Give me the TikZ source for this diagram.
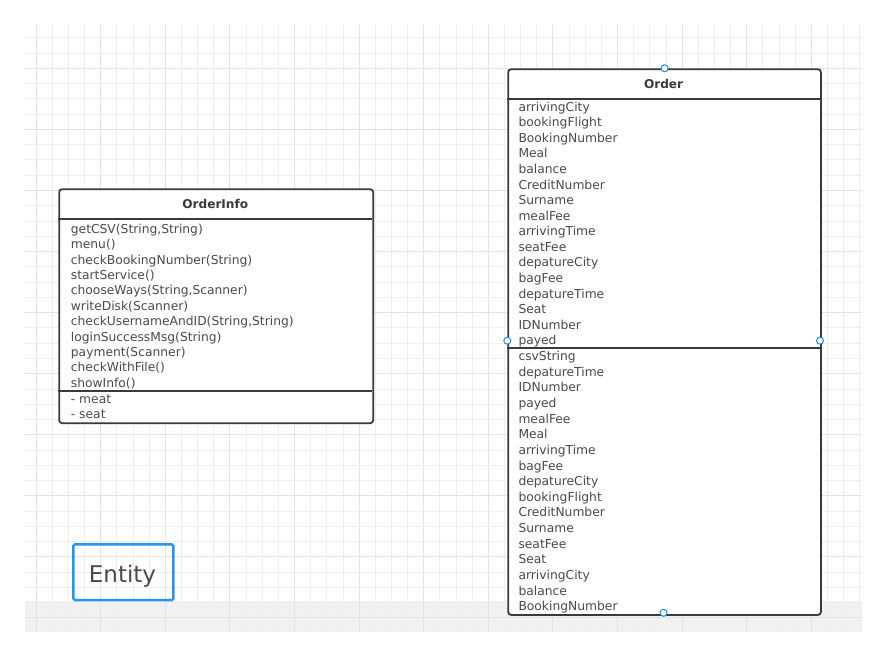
\documentclass[tikz,border=0pt]{standalone}
\usepackage{fontspec}
\setmainfont{DejaVu Sans}
\definecolor{gridminor}{HTML}{EFEFEF}
\definecolor{gridmajor}{HTML}{E3E3E3}
\definecolor{bandgray}{HTML}{F1F1F1}
\definecolor{boxline}{HTML}{3A3A3A}
\definecolor{txt}{HTML}{4A4A4A}
\definecolor{pointblue}{HTML}{1E88E5}
\definecolor{entityblue}{HTML}{2196F3}
\tikzset{
  umlbox/.style={draw=boxline, line width=1.8pt, rounded corners=3pt, fill=white, inner sep=0pt, anchor=north west},
  sepline/.style={draw=boxline, line width=1.8pt},
  umltitle/.style={font=\fontsize{12.1}{14}\selectfont\bfseries, text=boxline, inner sep=0pt},
  rowtext/.style={font=\fontsize{12.3}{14}\selectfont, text=txt, inner sep=0pt, anchor=base west},
  cpoint/.style={circle, draw=pointblue, fill=white, line width=1pt, minimum size=7pt, inner sep=0pt},
  minorline/.style={draw=gridminor, line width=0.8pt},
  majorline/.style={draw=gridmajor, line width=1pt},
}
\begin{document}
\begin{tikzpicture}[x=1pt,y=-1pt]
\useasboundingbox (0,0) rectangle (887,659);
% grid background
\fill[bandgray] (25,601) rectangle (862,632);
\foreach \i in {0,...,51}{
  \pgfmathtruncatemacro{\m}{mod(\i,4)}
  \ifnum\m=0
    \draw[majorline] ({36.1+\i*16.15},25) -- ({36.1+\i*16.15},632);
  \else
    \draw[minorline] ({36.1+\i*16.15},25) -- ({36.1+\i*16.15},632);
  \fi
}
\foreach \j in {0,...,38}{
  \pgfmathtruncatemacro{\m}{mod(\j,4)}
  \ifnum\m=2
    \draw[majorline] (25,{37.7+\j*15.27}) -- (862,{37.7+\j*15.27});
  \else
    \draw[minorline] (25,{37.7+\j*15.27}) -- (862,{37.7+\j*15.27});
  \fi
}
% OrderInfo
\node[umlbox, minimum width=314pt, minimum height=234pt] (orderinfo) at (58.3,188.3) {};
\coordinate (oiA1) at (58.3,219.3); \coordinate (oiA2) at (372.3,219.3);
\coordinate (oiB1) at (58.3,391); \coordinate (oiB2) at (372.3,391);
\draw[sepline] (oiA1) -- (oiA2);
\draw[sepline] (oiB1) -- (oiB2);
\node[umltitle] (oititle) at (215.3,204.3) {OrderInfo};
\foreach \t [count=\k] in {{getCSV(String,String)},{menu()},{checkBookingNumber(String)},{startService()},{chooseWays(String,Scanner)},{writeDisk(Scanner)},{checkUsernameAndID(String,String)},{loginSuccessMsg(String)},{payment(Scanner)},{checkWithFile()},{showInfo()}}
  \node[rowtext] (oim\k) at (70.7,{229.3+(\k-1)*15.4+4}) {\t};
\foreach \t [count=\k] in {{- meat},{- seat}}
  \node[rowtext] (oif\k) at (70.7,{399+(\k-1)*15.4+4}) {\t};
% Order
\node[umlbox, minimum width=312.7pt, minimum height=545.7pt] (order) at (507.3,68.3) {};
\coordinate (orA1) at (507.3,99); \coordinate (orA2) at (820,99);
\coordinate (orB1) at (507.3,348.3); \coordinate (orB2) at (820,348.3);
\draw[sepline] (orA1) -- (orA2);
\draw[sepline] (orB1) -- (orB2);
\node[umltitle] (ortitle) at (663.6,84) {Order};
\foreach \t [count=\k] in {arrivingCity,bookingFlight,BookingNumber,Meal,balance,CreditNumber,Surname,mealFee,arrivingTime,seatFee,depatureCity,bagFee,depatureTime,Seat,IDNumber,payed}
  \node[rowtext] (ora\k) at (518.3,{107.3+(\k-1)*15.56+4}) {\t};
\foreach \t [count=\k] in {csvString,depatureTime,IDNumber,payed,mealFee,Meal,arrivingTime,bagFee,depatureCity,bookingFlight,CreditNumber,Surname,seatFee,Seat,arrivingCity,balance,BookingNumber}
  \node[rowtext] (orb\k) at (518.3,{356.7+(\k-1)*15.625+4}) {\t};
% connection points
\node[cpoint] (ptop) at (order.north) {};
\node[cpoint] (pbottom) at (663.6,612.8) {};
\node[cpoint] (pleft) at (507.3,340.7) {};
\node[cpoint] (pright) at (820,340.7) {};
% Entity
\node[draw=entityblue, line width=2.4pt, rounded corners=1.5pt, minimum width=100pt, minimum height=55.7pt, inner sep=0pt] (entity) at (123.4,572.2) {};
\node[font=\fontsize{23}{27}\selectfont, text=txt, inner sep=0pt, anchor=base] (entitylabel) at (122.5,582.3) {Entity};
\end{tikzpicture}
\end{document}
